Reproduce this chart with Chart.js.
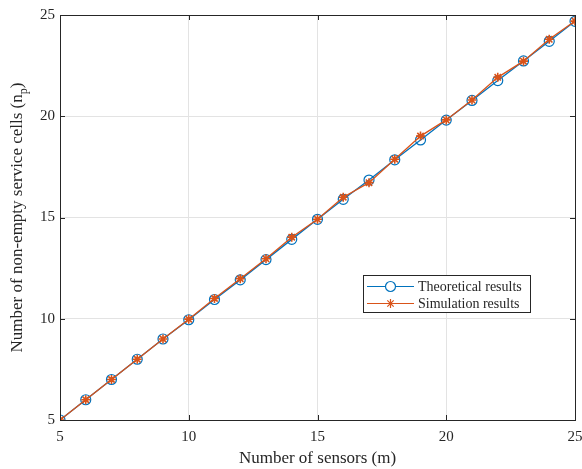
<!DOCTYPE html>
<html>
<head>
<meta charset="utf-8">
<script src="https://cdn.jsdelivr.net/npm/chart.js@4.4.0/dist/chart.umd.min.js"></script>
<style>
  html, body { margin: 0; padding: 0; background: #fff; }
  #wrap { width: 582px; height: 469px; }
</style>
</head>
<body>
<div id="wrap"><canvas id="chart"></canvas></div>
<script>
// Data
const sensors = [5, 6, 7, 8, 9, 10, 11, 12, 13, 14, 15, 16, 17, 18, 19, 20, 21, 22, 23, 24, 25];
const theoretical = [5, 6, 7, 8, 9, 9.95, 10.95, 11.92, 12.92, 13.92, 14.91, 15.9, 16.85, 17.85, 18.83, 19.81, 20.78, 21.76, 22.73, 23.7, 24.69];
const simulation = [5, 6, 7, 8, 9, 9.98, 11, 11.98, 12.96, 14.03, 14.91, 16.0, 16.72, 17.88, 19.02, 19.82, 20.8, 21.92, 22.72, 23.8, 24.7];
const tickValues = [5, 10, 15, 20, 25];

const FONT = '"Liberation Serif", "DejaVu Serif", serif';
const INK = '#262626';
const BLUE = '#0072BD';
const ORANGE = '#D95319';

function toPoints(xs, ys) {
    return xs.map((x, i) => ({ x: x, y: ys[i] }));
}

// MATLAB-like box, inward ticks, legend and y title
const matlabFrame = {
    id: 'matlabFrame',
    afterDatasetsDraw(chart) {
        const ctx = chart.ctx;
        const a = chart.chartArea;
        const xs = chart.scales.x;
        const ys = chart.scales.y;
        const len = 5;

        ctx.save();
        ctx.strokeStyle = INK;
        ctx.lineWidth = 1;
        ctx.strokeRect(Math.round(a.left) + 0.5, Math.round(a.top) + 0.5,
            Math.round(a.right - a.left), Math.round(a.bottom - a.top));

        ctx.beginPath();
        tickValues.forEach(v => {
            const px = Math.round(xs.getPixelForValue(v)) + 0.5;
            ctx.moveTo(px, a.bottom); ctx.lineTo(px, a.bottom - len);
            ctx.moveTo(px, a.top); ctx.lineTo(px, a.top + len);
            const py = Math.round(ys.getPixelForValue(v)) + 0.5;
            ctx.moveTo(a.left, py); ctx.lineTo(a.left + len, py);
            ctx.moveTo(a.right, py); ctx.lineTo(a.right - len, py);
        });
        ctx.stroke();
        ctx.restore();
    },
    afterDraw(chart) {
        const ctx = chart.ctx;
        const a = chart.chartArea;

        // legend
        const box = { x: 363, y: 275, w: 167, h: 37 };
        ctx.save();
        ctx.fillStyle = '#fff';
        ctx.fillRect(box.x, box.y, box.w, box.h);
        ctx.strokeStyle = INK;
        ctx.lineWidth = 1;
        ctx.strokeRect(box.x + 0.5, box.y + 0.5, box.w, box.h);

        const rows = [
            { label: 'Theoretical results', color: BLUE, style: 'circle', r: 5, y: 286 },
            { label: 'Simulation results', color: ORANGE, style: 'star', r: 4.5, y: 303 }
        ];
        rows.forEach(row => {
            ctx.strokeStyle = row.color;
            ctx.lineWidth = 1.2;
            ctx.beginPath();
            ctx.moveTo(367, row.y + 0.5);
            ctx.lineTo(414, row.y + 0.5);
            ctx.stroke();
            ctx.fillStyle = '#fff';
            Chart.helpers.drawPoint(ctx, {
                pointStyle: row.style, radius: row.r, rotation: 0, borderWidth: 1.4
            }, 390.5, row.y + 0.5);
            ctx.fillStyle = INK;
            ctx.font = '14px ' + FONT;
            ctx.textAlign = 'left';
            ctx.textBaseline = 'middle';
            ctx.fillText(row.label, 418, row.y + 1);
        });

        // y axis title with subscript
        const main = 'Number of non-empty service cells (n';
        ctx.font = '17px ' + FONT;
        const wMain = ctx.measureText(main).width;
        ctx.font = '12px ' + FONT;
        const wSub = ctx.measureText('p').width;
        ctx.font = '17px ' + FONT;
        const wClose = ctx.measureText(')').width;
        const total = wMain + wSub + wClose;

        ctx.translate(22, (a.top + a.bottom) / 2);
        ctx.rotate(-Math.PI / 2);
        ctx.fillStyle = INK;
        ctx.textAlign = 'left';
        ctx.textBaseline = 'alphabetic';
        let x0 = -total / 2;
        ctx.fillText(main, x0, 0);
        ctx.font = '12px ' + FONT;
        ctx.fillText('p', x0 + wMain, 5);
        ctx.font = '17px ' + FONT;
        ctx.fillText(')', x0 + wMain + wSub, 0);
        ctx.restore();
    }
};

new Chart(document.getElementById('chart'), {
    type: 'line',
    data: {
        datasets: [{
            label: 'Theoretical results',
            data: toPoints(sensors, theoretical),
            order: 1,
            borderColor: BLUE,
            backgroundColor: 'rgba(0,0,0,0)',
            borderWidth: 1.3,
            pointStyle: 'circle',
            pointRadius: 5,
            pointBorderWidth: 1.2,
            pointBorderColor: BLUE,
            pointBackgroundColor: 'rgba(0,0,0,0)',
            tension: 0
        }, {
            label: 'Simulation results',
            data: toPoints(sensors, simulation),
            order: 0,
            borderColor: ORANGE,
            backgroundColor: ORANGE,
            borderWidth: 1.3,
            pointStyle: 'star',
            pointRadius: 4.5,
            pointBorderWidth: 1.6,
            pointBorderColor: ORANGE,
            tension: 0
        }]
    },
    options: {
        responsive: true,
        maintainAspectRatio: false,
        animation: false,
        layout: { padding: { top: 15, right: 7, left: 0, bottom: 0 } },
        plugins: {
            legend: { display: false },
            tooltip: { enabled: false }
        },
        scales: {
            x: {
                type: 'linear',
                min: 5,
                max: 25,
                afterFit: scale => {
                    scale.height = 49;
                    scale.paddingLeft = 0;
                    scale.paddingRight = 0;
                },
                afterBuildTicks: scale => { scale.ticks = tickValues.map(v => ({ value: v })); },
                ticks: {
                    color: INK,
                    font: { family: FONT, size: 15 },
                    padding: 8,
                    maxRotation: 0
                },
                grid: { color: '#e3e3e3', drawTicks: false },
                border: { display: false },
                title: {
                    display: true,
                    text: 'Number of sensors (m)',
                    color: INK,
                    font: { family: FONT, size: 17 },
                    padding: { top: 0, bottom: 0 }
                }
            },
            y: {
                min: 5,
                max: 25,
                afterFit: scale => {
                    scale.width = 60;
                    scale.paddingTop = 0;
                    scale.paddingBottom = 0;
                },
                afterBuildTicks: scale => { scale.ticks = tickValues.map(v => ({ value: v })); },
                ticks: {
                    color: INK,
                    font: { family: FONT, size: 15 },
                    padding: 5
                },
                grid: { color: '#e3e3e3', drawTicks: false },
                border: { display: false }
            }
        }
    },
    plugins: [matlabFrame]
});
</script>
</body>
</html>
